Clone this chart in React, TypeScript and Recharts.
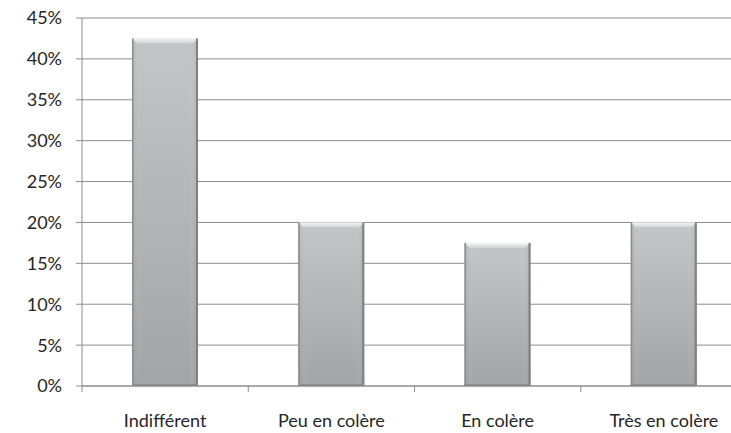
import React from "react";
import { BarChart, Bar, XAxis, YAxis, CartesianGrid } from "recharts";

const categories = ["Indifférent", "Peu en colère", "En colère", "Très en colère"];
const shares = [42.5, 20, 17.5, 20];
const yTicks = [0, 5, 10, 15, 20, 25, 30, 35, 40, 45];

const data = categories.map((name, i) => ({ name, value: shares[i] }));

const CHART_W = 747;
const CHART_H = 433;
const AXIS_W = 82;
const HALF_BAND = (CHART_W - AXIS_W) / categories.length / 2;

function BevelBar(props: any) {
  const { x, y, width, height } = props;
  if (!height || height <= 0) return null;
  const b = 5;
  return (
    <g>
      <rect x={x} y={y} width={width} height={height} fill="url(#barBody)" />
      <rect x={x} y={y} width={width} height={height} fill="url(#barSides)" />
      <polygon points={`${x},${y} ${x + width},${y} ${x + width - b},${y + b} ${x + b},${y + b}`} fill="url(#barTop)" />
      <rect x={x} y={y} width={1.5} height={height} fill="#8a8d8f" />
      <rect x={x + width - 2} y={y} width={2} height={height} fill="#7e8183" />
      <rect x={x} y={y + height - 2} width={width} height={2} fill="#8a8d8f" />
    </g>
  );
}

function CategoryTick(props: any) {
  const { x, y, payload } = props;
  return (
    <g>
      <line x1={x - HALF_BAND} y1={y - 8} x2={x - HALF_BAND} y2={y - 2} stroke="#8c8c8c" />
      <text x={x} y={y + 33} textAnchor="middle" fill="#262626" fontSize={18}>
        {payload.value}
      </text>
    </g>
  );
}

export default function App() {
  return (
    <div style={{ position: "absolute", left: 0, top: 0, width: 731, height: 433, overflow: "hidden", background: "#fff", fontFamily: "Lato, 'Open Sans', sans-serif" }}>
      <BarChart width={CHART_W} height={CHART_H} data={data} margin={{ top: 18, right: 0, left: 0, bottom: 0 }}>
        <defs>
          <linearGradient id="barBody" x1="0" y1="0" x2="0" y2="1">
            <stop offset="0%" stopColor="#c3c5c7" />
            <stop offset="100%" stopColor="#a2a5a7" />
          </linearGradient>
          <linearGradient id="barSides" x1="0" y1="0" x2="1" y2="0">
            <stop offset="0%" stopColor="#6f7274" stopOpacity={0.18} />
            <stop offset="15%" stopColor="#ffffff" stopOpacity={0} />
            <stop offset="85%" stopColor="#ffffff" stopOpacity={0} />
            <stop offset="100%" stopColor="#6f7274" stopOpacity={0.22} />
          </linearGradient>
          <linearGradient id="barTop" x1="0" y1="0" x2="0" y2="1">
            <stop offset="0%" stopColor="#f4f5f6" />
            <stop offset="100%" stopColor="#cfd1d3" />
          </linearGradient>
        </defs>
        <CartesianGrid vertical={false} stroke="#8c8c8c" />
        <XAxis
          dataKey="name"
          height={47}
          stroke="#8c8c8c"
          tickLine={false}
          tick={<CategoryTick />}
          interval={0}
        />
        <YAxis
          width={AXIS_W}
          domain={[0, 45]}
          ticks={yTicks}
          stroke="#8c8c8c"
          tickSize={6}
          tickMargin={14}
          tickFormatter={(v: number) => `${v}%`}
          tick={{ fill: "#262626", fontSize: 18 }}
          interval={0}
        />
        <Bar dataKey="value" barSize={66} shape={<BevelBar />} isAnimationActive={false} />
      </BarChart>
    </div>
  );
}
